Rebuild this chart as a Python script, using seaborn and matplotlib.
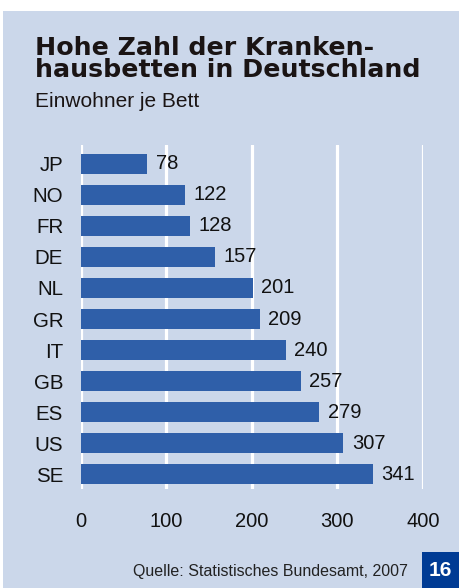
import pandas as pd
import matplotlib.pyplot as plt
import seaborn as sns
from matplotlib.patches import Rectangle

# data: inhabitants per hospital bed
countries = ['JP', 'NO', 'FR', 'DE', 'NL', 'GR', 'IT', 'GB', 'ES', 'US', 'SE']
einwohner = [78, 122, 128, 157, 201, 209, 240, 257, 279, 307, 341]
x_ticks = [0, 100, 200, 300, 400]

panel_color = '#cbd7ea'
bar_color = '#2f5fa9'
box_color = '#003b94'

W, H = 459, 588
df = pd.DataFrame({'land': countries, 'einwohner': einwohner})

sns.set_theme(style='white')
plt.rcParams['font.family'] = ['Liberation Sans', 'DejaVu Sans']

fig = plt.figure(figsize=(W / 100, H / 100), dpi=100)
fig.patch.set_facecolor('white')

# light blue panel behind everything
panel = Rectangle((3 / W, 0), 456 / W, 577 / H, transform=fig.transFigure,
                  facecolor=panel_color, edgecolor='none', zorder=-2)
fig.patches.append(panel)

ax = fig.add_axes([80.7 / W, (H - 489) / H, (423 - 80.7) / W, (489 - 145) / H])
ax.set_zorder(2)
ax.set_facecolor('none')

sns.barplot(data=df, x='einwohner', y='land', orient='h', color=bar_color,
            width=0.635, saturation=1, linewidth=0, ax=ax, zorder=3)
ax.bar_label(ax.containers[0], padding=6, fontsize=14.5, color='#111111', zorder=4)

ax.set_xlim(0, 400)
ax.set_ylim(10.48, -0.61)
ax.set_xticks(x_ticks)
ax.set_xlabel('')
ax.set_ylabel('')
ax.grid(axis='x', color='white', linewidth=2.3)
ax.set_axisbelow(True)
for s in ax.spines.values():
    s.set_visible(False)
ax.tick_params(axis='x', length=0, pad=16.5, labelsize=14.5, labelcolor='#111111')
ax.tick_params(axis='y', length=0, pad=12.6, labelsize=14.8, labelcolor='#111111')

# title block
title_font = dict(family='DejaVu Sans', fontweight='bold', fontsize=18.2, color='#1a1414')
fig.text(35 / W, (H - 55) / H, 'Hohe Zahl der Kranken-', va='baseline', **title_font)
fig.text(35 / W, (H - 77) / H, 'hausbetten in Deutschland', va='baseline', **title_font)
fig.text(35 / W, (H - 107) / H, 'Einwohner je Bett', va='baseline', fontsize=15, color='#1a1414')

# source + page number box
fig.text(408 / W, (H - 576) / H, 'Quelle: Statistisches Bundesamt, 2007', ha='right',
         va='baseline', fontsize=11.5, color='#222222')
box = Rectangle((422 / W, 0), 37 / W, 36 / H, transform=fig.transFigure,
                facecolor=box_color, edgecolor='none', zorder=-1)
fig.patches.append(box)
fig.text(440.5 / W, (H - 570) / H, '16', ha='center', va='center', fontsize=15,
         fontweight='bold', color='white')

fig.savefig('out.png', dpi=100, facecolor=fig.get_facecolor())
